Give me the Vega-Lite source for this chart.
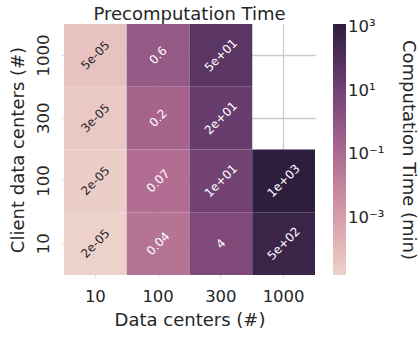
{
  "$schema": "https://vega.github.io/schema/vega-lite/v6.json",
  "width": 251,
  "height": 251,
  "autosize": {"type": "none"},
  "padding": {"left": 64, "top": 24, "right": 104, "bottom": 62},
  "background": "white",
  "title": {"text": "Precomputation Time", "fontSize": 18, "fontWeight": "normal", "baseline": "alphabetic", "offset": -13.6, "color": "#262626", "anchor": "middle"},
  "data": {"values": [
    {"dc": 10, "client": 1000, "value": 5e-05, "label": "5e-05"},
    {"dc": 10, "client": 300, "value": 3e-05, "label": "3e-05"},
    {"dc": 10, "client": 100, "value": 2e-05, "label": "2e-05"},
    {"dc": 10, "client": 10, "value": 1.6e-05, "label": "2e-05"},
    {"dc": 100, "client": 1000, "value": 0.6, "label": "0.6"},
    {"dc": 100, "client": 300, "value": 0.2, "label": "0.2"},
    {"dc": 100, "client": 100, "value": 0.07, "label": "0.07"},
    {"dc": 100, "client": 10, "value": 0.04, "label": "0.04"},
    {"dc": 300, "client": 1000, "value": 50, "label": "5e+01"},
    {"dc": 300, "client": 300, "value": 20, "label": "2e+01"},
    {"dc": 300, "client": 100, "value": 10, "label": "1e+01"},
    {"dc": 300, "client": 10, "value": 4, "label": "4"},
    {"dc": 1000, "client": 100, "value": 1270, "label": "1e+03"},
    {"dc": 1000, "client": 10, "value": 500, "label": "5e+02"}
  ]},
  "encoding": {
    "x": {"field": "dc", "type": "ordinal", "sort": [10, 100, 300, 1000],
      "scale": {"domain": [10, 100, 300, 1000], "paddingInner": 0, "paddingOuter": 0},
      "title": "Data centers (#)",
      "axis": {"labelAngle": 0, "labelBaseline": "alphabetic", "labelPadding": 23, "titleY": 50, "titleBaseline": "alphabetic", "titlePadding": 0}},
    "y": {"field": "client", "type": "ordinal",
      "scale": {"domain": [1000, 300, 100, 10], "paddingInner": 0, "paddingOuter": 0},
      "title": "Client data centers (#)",
      "axis": {"labelAngle": 270, "labelAlign": "center", "labelBaseline": "alphabetic", "labelPadding": 13, "titleX": -41, "titleY": 125.5, "titleAngle": 270, "titleAlign": "center", "titleBaseline": "alphabetic"}}
  },
  "layer": [
    {"mark": {"type": "rect"},
     "encoding": {
       "color": {"field": "value", "type": "quantitative",
         "scale": {"type": "log", "domain": [1.57e-05, 1273], "range": ["#edd1cb", "#deabb0", "#c8879e", "#aa678f", "#834c7d", "#583463", "#2d1e3e"], "interpolate": "rgb"},
         "title": "Computation Time (min)",
         "legend": {"values": [1000, 10, 0.1, 0.001],
           "labelExpr": "'\u2007\u2009\u200a' + (datum.value >= 999 ? '10³' : datum.value >= 9 ? '10¹' : datum.value >= 0.09 ? '10⁻¹' : '10⁻³')",
           "titleOrient": "right", "titleAngle": 270, "titleLimit": 400, "titlePadding": 19, "titleAnchor": "middle", "titleBaseline": "alphabetic"}}
     }},
    {"mark": {"type": "text", "angle": -45, "fontSize": 12, "font": "DejaVu Sans"},
     "encoding": {
       "text": {"field": "label"},
       "color": {"condition": {"test": "datum.value < 0.001", "value": "#262626"}, "value": "white"}
     }}
  ],
  "config": {
    "font": "DejaVu Sans",
    "view": {"stroke": null},
    "axis": {"zindex": 0, "domain": false, "grid": true, "gridColor": "#cccccc", "gridWidth": 1.3, "tickColor": "#dddddd", "tickSize": 3, "labelColor": "#262626", "titleColor": "#262626", "labelFontSize": 16.5, "titleFontSize": 18, "titleFontWeight": "normal", "labelFont": "DejaVu Sans", "titleFont": "DejaVu Sans"},
    "legend": {"gradientLength": 251, "gradientThickness": 13, "offset": 18, "padding": 0, "labelFontSize": 16.5, "labelColor": "#262626", "titleFontSize": 18, "titleFontWeight": "normal", "titleColor": "#262626", "labelFont": "DejaVu Sans", "titleFont": "DejaVu Sans"}
  }
}
